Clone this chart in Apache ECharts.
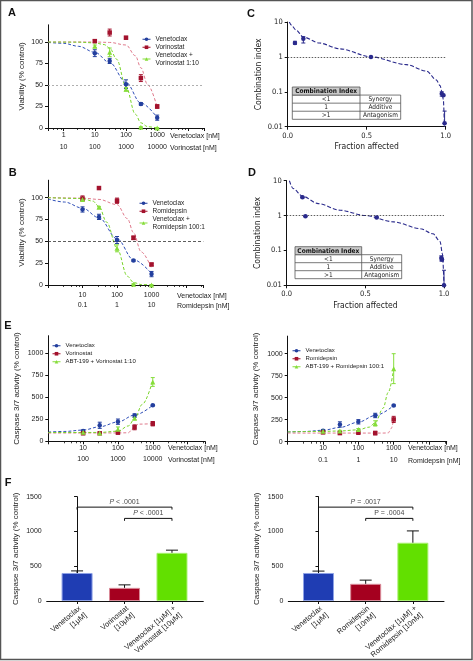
<!DOCTYPE html>
<html><head><meta charset="utf-8">
<script src="https://cdn.jsdelivr.net/npm/echarts@6/dist/echarts.min.js"></script>
<style>html,body{margin:0;padding:0;background:#fff}#c{width:473px;height:661px}</style>
</head><body><div id="c"></div>
<script>
// ---------------- DATA ----------------
// Panel A (viability, venetoclax / vorinostat)
const concA = [10, 30, 100, 300, 1000];
const venA = [87, 78, 51, 28, 12];
const venAErr = [4, 3, 5, 1.5, 3];
const vorA = [101, 111, 105, 58, 25];
const vorAErr = [1.5, 4, 1.5, 4, 2];
const comboA = [95, 88, 45, 1, 0];
const comboAErr = [1.5, 5, 2, 0.5, 0.5];
const fitAVenX = [0.32, 1, 3, 10, 30, 100, 300, 1000];
const fitAVenY = [99.5, 98.5, 95, 88, 76, 53, 29, 12];
const fitAVorX = [0.32, 10, 30, 100, 200, 300, 500, 1000];
const fitAVorY = [100, 100, 99.5, 96.5, 84, 70, 50, 24];
const fitAComboX = [0.32, 3, 10, 20, 30, 50, 100, 200, 300, 500, 1000];
const fitAComboY = [100, 99.8, 99, 97, 93, 80, 48, 16, 6, 1.5, 0];
const tickValsA = [1, 10, 100, 1000];
const venLabelsA = ['1', '10', '100', '1000'];
const vorLabelsA = ['10', '100', '1000', '10000'];

// Panel B (viability, venetoclax / romidepsin)
const concB = [10, 30, 100, 300, 1000];
const venB = [86.5, 78, 51.5, 28, 12.5];
const venBErr = [3, 3, 4, 1, 3];
const romB = [99, 111, 96.5, 54, 23.5];
const romBErr = [3, 1, 3, 2, 1.5];
const comboB = [98, 89, 42, 1, 0];
const comboBErr = [1, 1, 4, 0.5, 0.5];
const fitBVenX = [1, 3, 10, 30, 100, 300, 1000];
const fitBVenY = [98.5, 95, 88, 77, 53, 29, 13];
const fitBRomX = [1, 10, 30, 100, 200, 300, 500, 1000];
const fitBRomY = [100, 99.5, 98, 92, 76, 60, 38, 19];
const fitBComboX = [1, 10, 20, 30, 50, 100, 200, 300, 500, 1000];
const fitBComboY = [100, 99, 96, 90, 72, 42, 10, 3, 0.5, 0];
const tickValsB = [10, 100, 1000];
const venLabelsB = ['10', '100', '1000'];
const romLabelsB = ['0.1', '1', '10'];

// Panel C (combination index, vorinostat)
const faC = [0.046, 0.099, 0.527, 0.975, 0.985, 0.993];
const ciC = [2.5, 3.3, 1.0, 0.088, 0.08, 0.0125];
const ciCLo = [2.3, 2.5, 0.97, 0.075, 0.075, 0.0125];
const ciCHi = [2.8, 3.8, 1.03, 0.1, 0.085, 0.028];
const fitCX = [0.01, 0.025, 0.05, 0.1, 0.2, 0.33, 0.53, 0.75, 0.88, 0.94, 0.965, 0.975, 0.985, 0.992];
const fitCY = [10, 8.0, 6.0, 3.7, 2.5, 1.7, 1.0, 0.6, 0.39, 0.22, 0.15, 0.105, 0.06, 0.01];

// Panel D (combination index, romidepsin)
const faD = [0.10, 0.119, 0.572, 0.983, 0.987, 1.0];
const ciD = [3.35, 0.96, 0.88, 0.061, 0.055, 0.0101];
const ciDLo = [3.2, 0.93, 0.85, 0.05, 0.05, 0.0101];
const ciDHi = [3.5, 1.0, 0.92, 0.07, 0.06, 0.027];
const fitDX = [0.017, 0.04, 0.1, 0.2, 0.34, 0.5, 0.68, 0.85, 0.93, 0.975, 0.99, 1.0];
const fitDY = [10, 6.0, 3.6, 2.2, 1.42, 1.0, 0.66, 0.42, 0.3, 0.18, 0.08, 0.01];

const ciTicks = [0.01, 0.1, 1, 10];
const ciTickLabels = ['0.01', '0.1', '1', '10'];
const ciTableSym = ['<1', '1', '>1'];
const ciTableMeaning = ['Synergy', 'Additive', 'Antagonism'];

// Panel E left (caspase, vorinostat)
const concE = [10, 30, 100, 300, 1000];
const venE = [117, 182, 223, 292, 409];
const venEErr = [12, 35, 30, 20, 8];
const vorE = [91, 91, 98, 159, 200];
const vorEErr = [10, 8, 10, 28, 25];
const comboE = [102, 95, 136, 261, 674];
const comboEErr = [5, 5, 27, 15, 50];
const fitEVenX = [1, 3, 10, 30, 100, 300, 1000];
const fitEVenY = [105, 112, 128, 165, 220, 298, 410];
const fitEVorX = [1, 100, 200, 250, 300, 400, 1000];
const fitEVorY = [94, 95, 97, 130, 175, 195, 200];
const fitEComboX = [1, 10, 30, 100, 200, 300, 500, 1000];
const fitEComboY = [100, 100, 101, 115, 175, 255, 420, 690];
const vorLabelsE = ['100', '1000', '10000'];

// Panel E right (caspase, romidepsin)
const venER = [125, 196, 226, 298, 411];
const venERErr = [12, 30, 25, 25, 8];
const romER = [106, 98, 102, 98, 253];
const romERErr = [8, 15, 8, 20, 35];
const comboER = [118, 121, 140, 208, 830];
const comboERErr = [8, 8, 10, 30, 170];
const fitERVenX = [1, 3, 10, 30, 100, 300, 1000];
const fitERVenY = [110, 116, 130, 162, 222, 298, 411];
const fitERRomX = [1, 100, 500, 700, 850, 1000];
const fitERRomY = [98, 98, 98, 100, 150, 255];
const fitERComboX = [1, 10, 30, 100, 200, 300, 500, 700, 1000];
const fitERComboY = [112, 117, 122, 135, 165, 215, 380, 560, 830];

const vTicksViab = [0, 25, 50, 75, 100];
const vTicksCasp = [0, 250, 500, 750, 1000];
const vTicksBar = [0, 500, 1000, 1500];

// Panel F (bars)
const catsFL = ['Venetoclax\n[1μM]', 'Vorinostat\n[10μM]', 'Venetoclax [1μM] +\nVorinostat [10μM]'];
const valsFL = [403, 189, 693];
const errFL = [30, 43, 38];
const catsFR = ['Venetoclax\n[1μM]', 'Romidepsin\n[10nM]', 'Venetoclax [1μM] +\nRomidepsin [10nM]'];
const valsFR = [403, 247, 838];
const errFR = [27, 53, 170];
const sigFL = [{from: 0, to: 2, text: '{i|P} < .0001'}, {from: 1, to: 2, text: '{i|P} < .0001'}];
const sigFR = [{from: 0, to: 2, text: '{i|P} = .0017'}, {from: 1, to: 2, text: 'P = .0004'}];

// ---------------- STYLE ----------------
const FONT = "'Liberation Sans', Arial, sans-serif";
const NARROW = "'Liberation Sans Narrow', 'DejaVu Sans Condensed', sans-serif";
const BLUE = '#233f9e', BLUE_L = '#2f4fb8';
const RED = '#a3122d', RED_L = '#e07a8c';
const GREEN = '#86dd3a', GREEN_L = '#79d42a';
const NAVY = '#2a2a8c';
const barColors = ['#1f3db3', '#a5001f', '#62e000'];
const barBorders = ['#8ea2e6', '#d98a98', '#a9f06f'];
const sigLevels = [[1350, 1315, 1425], [1188, 1153, 1265]]; // bracket y, end y, text y

// ---------------- HELPERS ----------------
function pts(name, xs, ys, color, symbol, size, xi, yi) {
  return {type: 'line', name, xAxisIndex: xi, yAxisIndex: yi,
    data: xs.map((x, i) => [x, ys[i]]), symbol, symbolSize: size,
    itemStyle: {color}, lineStyle: {color, width: 0, opacity: 0}, z: 6, silent: true};
}
function errBars(xs, lo, hi, color, xi, yi, capW, both) {
  return {type: 'custom', xAxisIndex: xi, yAxisIndex: yi, silent: true, z: 5,
    data: xs.map((x, i) => [x, lo[i], hi[i]]), encode: {x: 0, y: [1, 2]},
    renderItem: function (p, api) {
      const x = api.value(0);
      const a = api.coord([x, api.value(1)]), b = api.coord([x, api.value(2)]);
      const st = {stroke: color, lineWidth: 1, fill: null};
      const ch = [
        {type: 'line', shape: {x1: a[0], y1: a[1], x2: b[0], y2: b[1]}, style: st},
        {type: 'line', shape: {x1: b[0] - capW, y1: b[1], x2: b[0] + capW, y2: b[1]}, style: st}];
      if (both) ch.push({type: 'line', shape: {x1: a[0] - capW, y1: a[1], x2: a[0] + capW, y2: a[1]}, style: st});
      return {type: 'group', children: ch};
    }};
}
function errSym(xs, ys, es, color, xi, yi) {
  return errBars(xs, ys.map((y, i) => y - es[i]), ys.map((y, i) => y + es[i]), color, xi, yi, 2, true);
}
function curve(xs, ys, color, xi, yi, extra) {
  return Object.assign({type: 'line', xAxisIndex: xi, yAxisIndex: yi, data: xs.map((x, i) => [x, ys[i]]),
    smooth: 0.35, smoothMonotone: 'x', symbol: 'none', silent: true, z: 3,
    lineStyle: {color, width: 1, type: [3, 2]}}, extra || {});
}
function refLine(value, color, dash) {
  return {silent: true, symbol: 'none', label: {show: false}, animation: false,
    lineStyle: {color, width: 0.8, type: dash}, data: [{yAxis: value}]};
}
function logFormatter(vals, labels) {
  return function (v) {
    for (let i = 0; i < vals.length; i++) {
      if (Math.abs(Math.log10(v) - Math.log10(vals[i])) < 1e-6) return labels[i];
    }
    return '';
  };
}
function logX(gi, min, max, vals, labels, margin, main) {
  return {type: 'log', logBase: 10, gridIndex: gi, position: 'bottom', offset: 0, min, max, splitNumber: 5,
    splitLine: {show: false},
    axisLine: {show: main, onZero: false, lineStyle: {color: '#111', width: 1}},
    axisTick: {show: main, length: 3, lineStyle: {color: '#111'}},
    minorTick: {show: main, splitNumber: 5, length: 2, lineStyle: {color: '#111', width: 0.8}},
    axisLabel: {margin, fontSize: 7, fontFamily: FONT, color: '#222', showMinLabel: true, showMaxLabel: true,
      hideOverlap: false, formatter: logFormatter(vals, labels)}};
}
function yVal(gi, min, max, interval, ticks, name, gap) {
  return {type: 'value', gridIndex: gi, min, max, interval, name, nameLocation: 'middle', nameGap: gap,
    nameTextStyle: {fontSize: 8, fontFamily: FONT, color: '#222'},
    axisLine: {show: true, lineStyle: {color: '#111', width: 1}},
    axisTick: {show: true, length: 3, customValues: ticks, lineStyle: {color: '#111'}},
    splitLine: {show: false},
    axisLabel: {customValues: ticks, margin: 5, fontSize: 7, fontFamily: FONT, color: '#222',
      formatter: v => ticks.includes(v) ? String(v) : ''}};
}
function yLogCI(gi, gap) {
  return {type: 'log', logBase: 10, gridIndex: gi, min: 0.01, max: 10, name: 'Combination index',
    nameLocation: 'middle', nameGap: gap, nameTextStyle: {fontSize: 8.5, fontFamily: NARROW, color: '#222'},
    axisLine: {show: true, lineStyle: {color: '#111'}}, axisTick: {show: true, length: 3, lineStyle: {color: '#111'}},
    splitLine: {show: false},
    axisLabel: {margin: 5, fontSize: 7.5, fontFamily: NARROW, color: '#222', formatter: logFormatter(ciTicks, ciTickLabels)}};
}
function xFa(gi) {
  return {type: 'value', gridIndex: gi, min: 0, max: 1, interval: 0.5, name: 'Fraction affected',
    nameLocation: 'middle', nameGap: 16, nameTextStyle: {fontSize: 8.5, fontFamily: NARROW, color: '#222'},
    axisLine: {show: true, onZero: false, lineStyle: {color: '#111'}}, axisTick: {show: true, length: 3, lineStyle: {color: '#111'}},
    splitLine: {show: false},
    axisLabel: {margin: 5, fontSize: 7.5, fontFamily: NARROW, color: '#222', formatter: v => v.toFixed(1)}};
}
function xBar(gi, cats) {
  return {type: 'value', gridIndex: gi, position: 'bottom', min: -0.64, max: 2.66,
    axisLine: {show: true, onZero: false, lineStyle: {color: '#111'}},
    axisTick: {show: true, length: 3, customValues: [0, 1, 2], lineStyle: {color: '#111'}},
    splitLine: {show: false},
    axisLabel: {customValues: [0, 1, 2], rotate: 40, margin: 3, fontSize: 7.5, lineHeight: 9, fontFamily: FONT, color: '#222',
      align: 'right', verticalAlign: 'top',
      formatter: v => (Number.isInteger(v) && cats[v] !== undefined) ? cats[v] : ''}};
}
function barSeries(vals, xi, yi) {
  return {type: 'bar', xAxisIndex: xi, yAxisIndex: yi, barWidth: 31, silent: true, z: 2,
    data: vals.map((v, i) => ({value: [i, v], itemStyle: {color: barColors[i], borderColor: barBorders[i], borderWidth: 1}}))};
}
function sigSeries(sigs, xi, yi) {
  const out = [];
  sigs.forEach((s, k) => {
    const lv = sigLevels[k];
    out.push({type: 'line', xAxisIndex: xi, yAxisIndex: yi, silent: true, symbol: 'none', z: 4,
      data: [[s.from, lv[1]], [s.from, lv[0]], [s.to, lv[0]], [s.to, lv[1]]],
      lineStyle: {color: '#111', width: 1}});
    out.push({type: 'scatter', xAxisIndex: xi, yAxisIndex: yi, silent: true, symbolSize: 0, z: 4,
      data: [[(s.from + s.to) / 2, lv[2]]],
      label: {show: true, position: 'inside', formatter: s.text, fontSize: 7, fontFamily: FONT, color: '#111',
        rich: {i: {fontStyle: 'italic', fontSize: 7, fontFamily: FONT, color: '#111'}}}});
  });
  return out;
}
function legendAt(left, top, names, fs, lh) {
  return {left, top, orient: 'vertical', itemWidth: 8, itemHeight: 4.5, itemGap: 0.5, padding: 0,
    selectedMode: false, data: names, lineStyle: {opacity: 1, width: 1},
    textStyle: {fontSize: fs, lineHeight: lh, fontFamily: FONT, color: '#222'}};
}
function txt(t, x, y, opts) {
  return {type: 'text', x, y, silent: true, z: 100,
    style: Object.assign({text: t, fontSize: 7, fontFamily: FONT, fill: '#222', align: 'left', verticalAlign: 'middle'}, opts || {})};
}
function table(x0, y0, xDiv, x1, y1) {
  const h = (y1 - y0) / 4, st = {stroke: '#555', lineWidth: 0.8};
  const els = [
    {type: 'rect', shape: {x: x0, y: y0 + h, width: x1 - x0, height: 3 * h}, style: Object.assign({fill: '#fff'}, st)},
    {type: 'rect', shape: {x: x0, y: y0, width: xDiv - x0, height: h}, style: Object.assign({fill: '#c9c9c9'}, st)},
    {type: 'line', shape: {x1: x0, y1: y0 + 2 * h, x2: x1, y2: y0 + 2 * h}, style: st},
    {type: 'line', shape: {x1: x0, y1: y0 + 3 * h, x2: x1, y2: y0 + 3 * h}, style: st},
    {type: 'line', shape: {x1: xDiv, y1: y0 + h, x2: xDiv, y2: y1}, style: st},
    txt('Combination Index', (x0 + xDiv) / 2, y0 + h / 2 + 0.5, {align: 'center', fontWeight: 'bold', fontSize: 6.5, fontFamily: NARROW, fill: '#111'})
  ];
  for (let i = 0; i < 3; i++) {
    els.push(txt(ciTableSym[i], (x0 + xDiv) / 2, y0 + (i + 1.5) * h + 0.5, {align: 'center', fontSize: 6.5, fontFamily: NARROW}));
    els.push(txt(ciTableMeaning[i], (xDiv + x1) / 2, y0 + (i + 1.5) * h + 0.5, {align: 'center', fontSize: 6.5, fontFamily: NARROW}));
  }
  els.forEach(e => { e.z = 90; e.silent = true; });
  return els;
}
function letter(t, x, y) {
  return txt(t, x, y, {fontSize: 11, fontWeight: 'bold', align: 'center', fill: '#111'});
}

// ---------------- OPTION ----------------
const grids = [
  {left: 48, top: 24.8, width: 156, height: 103.2},     // A
  {left: 48, top: 180.2, width: 155.3, height: 104.8},  // B
  {left: 287.7, top: 22, width: 158, height: 104.7},    // C
  {left: 286.7, top: 180.7, width: 157.3, height: 104.6}, // D
  {left: 48.3, top: 335.7, width: 156.7, height: 105.6}, // E left
  {left: 287.7, top: 336.1, width: 159, height: 105.6},  // E right
  {left: 46.7, top: 496.7, width: 156.6, height: 104.3}, // F left
  {left: 288.3, top: 496.7, width: 155.7, height: 104.3}  // F right
].map(g => Object.assign({outerBoundsMode: 'none', containLabel: false}, g));

const xAxes = [
  logX(0, 0.31623, 31623, tickValsA, venLabelsA, 4, true),
  logX(0, 0.31623, 31623, tickValsA, vorLabelsA, 16, false),
  logX(1, 1, 31623, tickValsB, venLabelsB, 7, true),
  logX(1, 1, 31623, tickValsB, romLabelsB, 16.5, false),
  xFa(2),
  xFa(3),
  logX(4, 1, 31623, tickValsB, venLabelsB, 3, true),
  logX(4, 1, 31623, tickValsB, vorLabelsE, 14.5, false),
  logX(5, 1, 31623, tickValsB, venLabelsB, 3, true),
  logX(5, 1, 31623, tickValsB, romLabelsB, 15, false),
  xBar(6, catsFL),
  xBar(7, catsFR)
];
const yAxes = [
  yVal(0, 0, 120, 25, vTicksViab, 'Viability (% control)', 22),
  yVal(1, 0, 120, 25, vTicksViab, 'Viability (% control)', 22),
  yLogCI(2, 24),
  yLogCI(3, 22),
  yVal(4, 0, 1200, 250, vTicksCasp, 'Caspase 3/7 activity (% control)', 28),
  yVal(5, 0, 1200, 250, vTicksCasp, 'Caspase 3/7 activity (% control)', 28),
  yVal(6, 0, 1500, 500, vTicksBar, 'Caspase 3/7 activity (% control)', 27),
  yVal(7, 0, 1500, 500, vTicksBar, 'Caspase 3/7 activity (% control)', 28)
];

const nA3 = 'Venetoclax +\nVorinostat 1:10';
const nB3 = 'Venetoclax +\nRomidepsin 100:1';
const nE3 = 'ABT-199 + Vorinostat 1:10';
const nER3 = 'ABT-199 + Romidepsin 100:1';

const series = [
  // A
  curve(fitAVenX, fitAVenY, BLUE_L, 0, 0, {markLine: refLine(50, '#9a9a9a', [2, 2])}),
  curve(fitAVorX, fitAVorY, RED_L, 0, 0),
  curve(fitAComboX, fitAComboY, GREEN_L, 0, 0),
  errSym(concA, venA, venAErr, BLUE, 0, 0),
  errSym(concA, vorA, vorAErr, RED, 0, 0),
  errSym(concA, comboA, comboAErr, GREEN, 0, 0),
  pts('Venetoclax', concA, venA, BLUE, 'circle', 4.5, 0, 0),
  pts('Vorinostat', concA, vorA, RED, 'rect', 4.5, 0, 0),
  pts(nA3, concA, comboA, GREEN, 'triangle', 5, 0, 0),
  // B
  curve(fitBVenX, fitBVenY, BLUE_L, 2, 1, {markLine: refLine(50, '#333', [3, 2])}),
  curve(fitBRomX, fitBRomY, RED_L, 2, 1),
  curve(fitBComboX, fitBComboY, GREEN_L, 2, 1),
  errSym(concB, venB, venBErr, BLUE, 2, 1),
  errSym(concB, romB, romBErr, RED, 2, 1),
  errSym(concB, comboB, comboBErr, GREEN, 2, 1),
  pts('Venetoclax', concB, venB, BLUE, 'circle', 4.5, 2, 1),
  pts('Romidepsin', concB, romB, RED, 'rect', 4.5, 2, 1),
  pts(nB3, concB, comboB, GREEN, 'triangle', 5, 2, 1),
  // C
  curve(fitCX, fitCY, NAVY, 4, 2, {smooth: 0.3, lineStyle: {color: NAVY, width: 1.1, type: [4, 2]}, markLine: refLine(1, '#333', [1.5, 1.5])}),
  errBars(faC, ciCLo, ciCHi, NAVY, 4, 2, 2, true),
  pts('ciC', faC, ciC, NAVY, 'circle', 4.5, 4, 2),
  // D
  curve(fitDX, fitDY, NAVY, 5, 3, {smooth: 0.3, lineStyle: {color: NAVY, width: 1.1, type: [4, 2]}, markLine: refLine(1, '#333', [1.5, 1.5])}),
  errBars(faD, ciDLo, ciDHi, NAVY, 5, 3, 2, true),
  pts('ciD', faD, ciD, NAVY, 'circle', 4.5, 5, 3),
  // E left
  curve(fitEVenX, fitEVenY, BLUE_L, 6, 4),
  curve(fitEVorX, fitEVorY, RED_L, 6, 4),
  curve(fitEComboX, fitEComboY, GREEN_L, 6, 4),
  errSym(concE, venE, venEErr, BLUE, 6, 4),
  errSym(concE, vorE, vorEErr, RED, 6, 4),
  errSym(concE, comboE, comboEErr, GREEN, 6, 4),
  pts('Venetoclax', concE, venE, BLUE, 'circle', 4.5, 6, 4),
  pts('Vorinostat', concE, vorE, RED, 'rect', 4.5, 6, 4),
  pts(nE3, concE, comboE, GREEN, 'triangle', 5, 6, 4),
  // E right
  curve(fitERVenX, fitERVenY, BLUE_L, 8, 5),
  curve(fitERRomX, fitERRomY, RED_L, 8, 5),
  curve(fitERComboX, fitERComboY, GREEN_L, 8, 5),
  errSym(concE, venER, venERErr, BLUE, 8, 5),
  errSym(concE, romER, romERErr, RED, 8, 5),
  errSym(concE, comboER, comboERErr, GREEN, 8, 5),
  pts('Venetoclax', concE, venER, BLUE, 'circle', 4.5, 8, 5),
  pts('Romidepsin', concE, romER, RED, 'rect', 4.5, 8, 5),
  pts(nER3, concE, comboER, GREEN, 'triangle', 5, 8, 5),
  // F
  barSeries(valsFL, 10, 6),
  errBars([0, 1, 2], valsFL, valsFL.map((v, i) => v + errFL[i]), '#111', 10, 6, 6, false),
  barSeries(valsFR, 11, 7),
  errBars([0, 1, 2], valsFR, valsFR.map((v, i) => v + errFR[i]), '#111', 11, 7, 6, false)
].concat(sigSeries(sigFL, 10, 6), sigSeries(sigFR, 11, 7));

const graphics = [
  {type: 'rect', shape: {x: 0.5, y: 0.5, width: 471.5, height: 659}, style: {fill: null, stroke: '#555', lineWidth: 1.5}, silent: true, z: 100},
  letter('A', 12, 13), letter('B', 12.7, 173), letter('C', 251, 14), letter('D', 252, 173),
  letter('E', 8, 326), letter('F', 8, 483),
  txt('Venetoclax [nM]', 170, 136), txt('Vorinostat [nM]', 170, 148),
  txt('Venetoclax [nM]', 177, 296), txt('Romidepsin [nM]', 177, 305.7),
  txt('Venetoclax [nM]', 168, 448.3), txt('Vorinostat [nM]', 168, 460),
  txt('Venetoclax [nM]', 408, 448.3), txt('Romidepsin [nM]', 408, 460.7)
].concat(table(292.3, 87, 360, 400.7, 119.3), table(295, 246.7, 361.7, 401.7, 278.7));

const option = {
  animation: false,
  backgroundColor: '#fff',
  grid: grids, xAxis: xAxes, yAxis: yAxes,
  legend: [
    legendAt(142, 35.5, ['Venetoclax', 'Vorinostat', nA3], 6.5, 7.5),
    legendAt(139, 199.5, ['Venetoclax', 'Romidepsin', nB3], 6.5, 7.5),
    legendAt(52, 342, ['Venetoclax', 'Vorinostat', nE3], 6, 7.5),
    legendAt(292, 347, ['Venetoclax', 'Romidepsin', nER3], 6, 7.5)
  ],
  series, graphic: {elements: graphics}
};
const chart = echarts.init(document.getElementById('c'), null, {renderer: 'canvas'});
chart.setOption(option);
</script></body></html>
